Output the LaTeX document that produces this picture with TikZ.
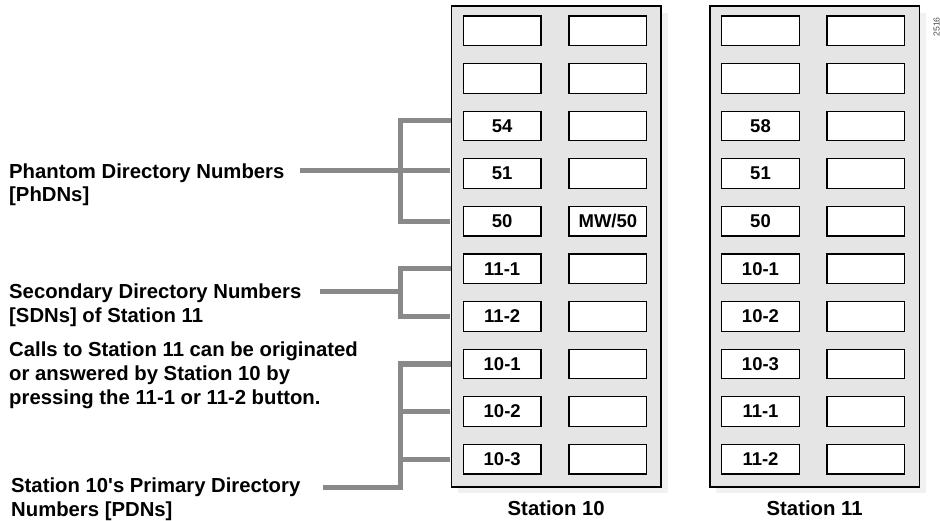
\documentclass[tikz,border=0pt]{standalone}
\usepackage{fontspec}
\setmainfont{Liberation Sans}
\usetikzlibrary{calc,shadows}
\definecolor{panelgray}{HTML}{E5E5E5}
\definecolor{shadegray}{HTML}{F1F1F1}
\definecolor{brkgray}{HTML}{898989}
\begin{document}
\begin{tikzpicture}[x=1pt,y=-1pt]

\def\dy{47.6}
\def\yt{30.8}
\tikzstyle{panel} = [
	draw, fill=panelgray, rectangle, line width=1.6pt, inner sep=0pt,
	minimum width=209.6pt, minimum height=480.7pt,
	drop shadow={shadow xshift=6.5pt, shadow yshift=-6.5pt, fill=shadegray, opacity=1} ];
\tikzstyle{button} = [
	draw, fill=white, rectangle, line width=1.2pt,
	minimum width=77.7pt, minimum height=29.6pt, inner sep=0pt,
	font=\bfseries\fontsize{18.5}{18.5}\selectfont ];
\tikzstyle{lbl} = [anchor=base west, align=left, inner sep=0pt,
	font=\bfseries\fontsize{20.3}{23.6}\selectfont];
\tikzstyle{brk} = [draw=brkgray, line width=5pt, shorten >=0.8pt];
\useasboundingbox (0,0) rectangle (940,521);

\node[panel] (p10) at (556.2,246.4) {};
\node[panel] (p11) at (814.6,246.4) {};

% Station 10
\node[button] (a1) at (502.2,\yt+0*\dy) {};
\node[button] (a2) at (502.2,\yt+1*\dy) {};
\node[button] (a3) at (502.2,\yt+2*\dy) {54};
\node[button] (a4) at (502.2,\yt+3*\dy) {51};
\node[button] (a5) at (502.2,\yt+4*\dy) {50};
\node[button] (a6) at (502.2,\yt+5*\dy) {11-1};
\node[button] (a7) at (502.2,\yt+6*\dy) {11-2};
\node[button] (a8) at (502.2,\yt+7*\dy) {10-1};
\node[button] (a9) at (502.2,\yt+8*\dy) {10-2};
\node[button] (a10) at (502.2,\yt+9*\dy) {10-3};
\node[button] (b1) at (607.9,\yt+0*\dy) {};
\node[button] (b2) at (607.9,\yt+1*\dy) {};
\node[button] (b3) at (607.9,\yt+2*\dy) {};
\node[button] (b4) at (607.9,\yt+3*\dy) {};
\node[button] (b5) at (607.9,\yt+4*\dy) {MW/50};
\node[button] (b6) at (607.9,\yt+5*\dy) {};
\node[button] (b7) at (607.9,\yt+6*\dy) {};
\node[button] (b8) at (607.9,\yt+7*\dy) {};
\node[button] (b9) at (607.9,\yt+8*\dy) {};
\node[button] (b10) at (607.9,\yt+9*\dy) {};

% Station 11
\node[button] (c1) at (760.5,\yt+0*\dy) {};
\node[button] (c2) at (760.5,\yt+1*\dy) {};
\node[button] (c3) at (760.5,\yt+2*\dy) {58};
\node[button] (c4) at (760.5,\yt+3*\dy) {51};
\node[button] (c5) at (760.5,\yt+4*\dy) {50};
\node[button] (c6) at (760.5,\yt+5*\dy) {10-1};
\node[button] (c7) at (760.5,\yt+6*\dy) {10-2};
\node[button] (c8) at (760.5,\yt+7*\dy) {10-3};
\node[button] (c9) at (760.5,\yt+8*\dy) {11-1};
\node[button] (c10) at (760.5,\yt+9*\dy) {11-2};
\node[button] (d1) at (865.9,\yt+0*\dy) {};
\node[button] (d2) at (865.9,\yt+1*\dy) {};
\node[button] (d3) at (865.9,\yt+2*\dy) {};
\node[button] (d4) at (865.9,\yt+3*\dy) {};
\node[button] (d5) at (865.9,\yt+4*\dy) {};
\node[button] (d6) at (865.9,\yt+5*\dy) {};
\node[button] (d7) at (865.9,\yt+6*\dy) {};
\node[button] (d8) at (865.9,\yt+7*\dy) {};
\node[button] (d9) at (865.9,\yt+8*\dy) {};
\node[button] (d10) at (865.9,\yt+9*\dy) {};

\node[anchor=base, font=\bfseries\fontsize{20.3}{20}\selectfont] (s10) at (556.2,515.5) {Station 10};
\node[anchor=base, font=\bfseries\fontsize{20.3}{20}\selectfont] (s11) at (814.6,515.5) {Station 11};
\node[rotate=90, inner sep=0pt, text=black!70, font=\fontsize{8.7}{8.7}\selectfont] (fig) at (936.5,27) {2516};

% labels (base = last line)
\node[lbl] (phdn) at (9,201.7) {Phantom Directory Numbers\\{[PhDNs]}};
\node[lbl] (sdn) at (9,322.5) {Secondary Directory Numbers\\{[SDNs]} of Station 11};
\node[lbl] (calls) at (9,404) {Calls to Station 11 can be originated\\or answered by Station 10 by\\pressing the 11-1 or 11-2 button.};
\node[lbl] (pdn) at (11,516.5) {Station 10\textquotesingle s Primary Directory\\Numbers {[PDNs]}};

\coordinate (bx) at (400,0);
\coordinate (phdnL) at (300,171);
\coordinate (sdnL) at (320,292);
\coordinate (pdnL) at (322,487);

% brackets
\draw[brk] (phdnL) -- (phdnL -| p10.west);
\draw[brk] ($(a3 -| p10.west)+(0,-5)$) -| (bx |- a5) -- (a5 -| p10.west);
\draw[brk] (sdnL) -- (sdnL -| bx);
\draw[brk] (a6 -| p10.west) -| (bx |- a7) -- (a7 -| p10.west);
\draw[brk] (a8 -| p10.west) -| (bx |- pdnL) -- (pdnL);
\draw[brk] (a9 -| bx) -- (a9 -| p10.west);
\draw[brk] (a10 -| bx) -- (a10 -| p10.west);

\end{tikzpicture}
\end{document}
